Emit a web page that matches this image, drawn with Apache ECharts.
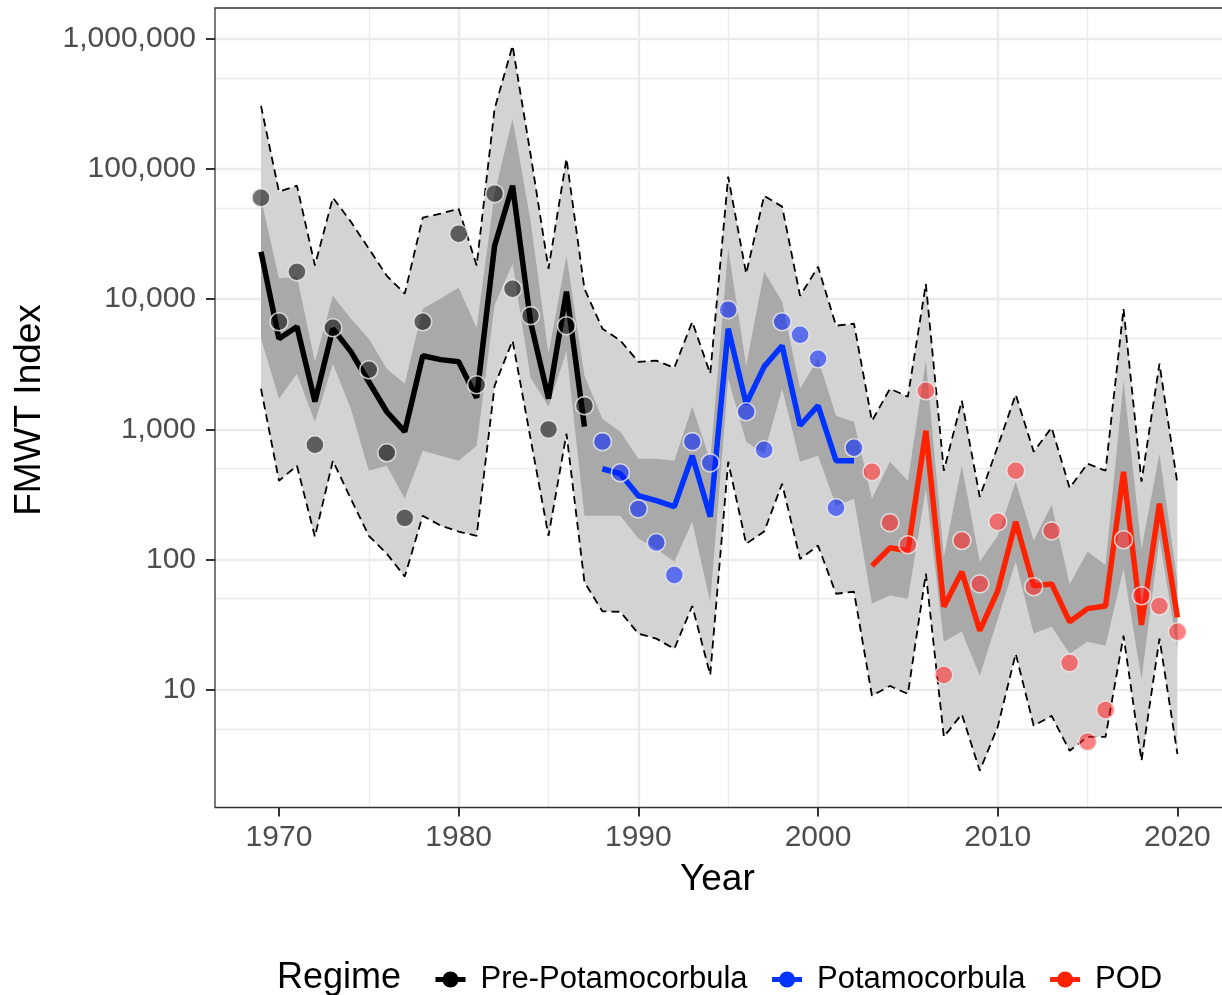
<!DOCTYPE html>
<html>
<head>
<meta charset="utf-8">
<script src="https://cdn.jsdelivr.net/npm/echarts@6/dist/echarts.min.js"></script>
<style>
  html, body { margin: 0; padding: 0; background: #fff; }
  #main { width: 1222px; height: 995px; }
</style>
</head>
<body>
<div id="main"></div>
<script>
// band years (whole record)
var years = [1969, 1970, 1971, 1972, 1973, 1974, 1975, 1976, 1977, 1978, 1979, 1980, 1981, 1982, 1983, 1984, 1985, 1986, 1987,
    1988, 1989, 1990, 1991, 1992, 1993, 1994, 1995, 1996, 1997, 1998, 1999, 2000, 2001, 2002,
    2003, 2004, 2005, 2006, 2007, 2008, 2009, 2010, 2011, 2012, 2013, 2014, 2015, 2016, 2017, 2018, 2019, 2020];
// outer interval (dashed)
var hi95 = [305000, 66800, 74300, 18100, 60100, 39300, 24400, 15100, 11000, 42200, 45300, 49500, 18100, 290000, 884000, 130000, 17100, 120000, 12000,
    5930, 4800, 3300, 3370, 2970, 6700, 2670, 87100, 15700, 62200, 51300, 10600, 17700, 6250, 6470,
    1160, 2050, 1780, 13100, 481, 1660, 303, 740, 1850, 673, 1030, 355, 545, 481, 8430, 396, 3190, 382];
var lo95 = [2050, 403, 525, 150, 574, 293, 152, 111, 74, 217, 182, 164, 152, 2160, 4800, 850, 152, 925, 67,
    40, 39.7, 27, 24.7, 20.6, 44, 13, 563, 132, 164, 382, 101, 128, 54.6, 56.6,
    9.0, 10.7, 9.3, 78, 4.35, 6.5, 2.39, 5.2, 18.9, 5.3, 6.3, 3.4, 4.35, 4.35, 26, 2.85, 24.7, 3.2];
// inner interval (dark band)
var hi50 = [59000, 14400, 14900, 3300, 10600, 7080, 4960, 2920, 2240, 8430, 10100, 12200, 6000, 65000, 243000, 40000, 3800, 21500, 2580,
    1200, 960, 594, 594, 574, 1490, 574, 24400, 3080, 16200, 9550, 2050, 3480, 1270, 1140,
    293, 563, 403, 3370, 105, 525, 96, 152, 396, 140, 264, 65, 115, 91, 2360, 121, 650, 67];
var lo50 = [5000, 1720, 2670, 1140, 3190, 1440, 481, 525, 293, 686, 627, 574, 748, 9000, 18700, 2500, 1500, 4000, 217,
    217, 217, 145, 121, 96, 195, 47, 2450, 804, 650, 2050, 563, 627, 259, 293,
    46, 53, 50, 350, 23.4, 28, 12.8, 35, 96, 27, 30.5, 18.9, 23.4, 21.8, 85, 12.1, 145, 20.6];

// fitted lines by regime
var preYears = [1969, 1970, 1971, 1972, 1973, 1974, 1975, 1976, 1977, 1978, 1979, 1980, 1981, 1982, 1983, 1984, 1985, 1986, 1987];
var preFit = [23100, 4960, 6140, 1630, 5930, 3950, 2320, 1365, 960, 3670, 3430, 3300, 1750, 25700, 74300, 6700, 1720, 11400, 1050];
var potYears = [1988, 1989, 1990, 1991, 1992, 1993, 1994, 1995, 1996, 1997, 1998, 1999, 2000, 2001, 2002];
var potFit = [498, 456, 309, 283, 255, 627, 213, 5930, 1570, 3030, 4390, 1070, 1520, 574, 574];
var podYears = [2003, 2004, 2005, 2006, 2007, 2008, 2009, 2010, 2011, 2012, 2013, 2014, 2015, 2016, 2017, 2018, 2019, 2020];
var podFit = [89.5, 123, 117, 975, 43.4, 80.5, 28.4, 57.5, 195, 63, 65, 33.3, 42, 44, 472, 31.5, 269, 36];

// observed index
var preObsYears = [1969, 1970, 1971, 1972, 1973, 1975, 1976, 1977, 1978, 1980, 1981, 1982, 1983, 1984, 1985, 1986, 1987];
var preObs = [60100, 6700, 16200, 762, 6030, 2870, 661, 209, 6700, 31800, 2200, 64600, 12000, 7470, 1000, 6250, 1520];
var potObs = [804, 464, 245, 135, 76, 804, 553, 8300, 1365, 697, 6700, 5330, 3480, 250, 722];
var podObs = [472, 192, 130, 1980, 13, 140, 65, 195, 481, 61.8, 166, 16.1, 4.0, 7.0, 142, 52.7, 44, 27.9];

var xTicks = [1970, 1980, 1990, 2000, 2010, 2020];
var xMinor = [1975, 1985, 1995, 2005, 2015];
var yMinor = [5, 50, 500, 5000, 50000, 500000];

var myChart = echarts.init(document.getElementById('main'));
var FONT = 'Liberation Sans';

function pairs(xs, ys) {
    return xs.map(function (x, i) { return [x, ys[i]]; });
}

function band(lo, hi, color, z) {
    return {
        type: 'custom',
        silent: true,
        z: z,
        data: pairs(years, hi),
        encode: {x: 0, y: 1},
        renderItem: function (params, api) {
            if (params.dataIndex !== 0) return null;
            var pts = [];
            for (var i = 0; i < years.length; i++) pts.push(api.coord([years[i], hi[i]]));
            for (var j = years.length - 1; j >= 0; j--) pts.push(api.coord([years[j], lo[j]]));
            return {type: 'polygon', shape: {points: pts}, style: {fill: color}};
        }
    };
}

function dashed(vals) {
    return {
        type: 'line', silent: true, z: 4,
        data: pairs(years, vals),
        showSymbol: false,
        lineStyle: {color: '#000', width: 1.8, type: [8, 5]}
    };
}

function fitLine(name, xs, ys, color) {
    return {
        name: name, type: 'line', z: 5, silent: true,
        data: pairs(xs, ys),
        symbol: 'circle', showSymbol: false,
        itemStyle: {color: color},
        lineStyle: {color: color, width: 5.5}
    };
}

function dots(name, xs, ys, color) {
    return {
        name: name, type: 'scatter', z: 6, silent: true,
        data: pairs(xs, ys),
        symbolSize: 18,
        itemStyle: {color: color, borderColor: '#ebebeb', borderWidth: 1.6}
    };
}

var minorLines = {
    type: 'line', silent: true, data: [],
    markLine: {
        z: 1, silent: true, symbol: 'none', label: {show: false},
        lineStyle: {color: '#ebebeb', width: 1.4, type: 'solid'},
        data: yMinor.map(function (v) { return {yAxis: v}; })
            .concat(xMinor.map(function (v) { return {xAxis: v}; }))
    }
};

var option = {
    animation: false,
    grid: {left: 215, right: 0, top: 8, bottom: 187.5, show: false},
    graphic: [
        {type: 'rect', z: 100, silent: true,
            shape: {x: 215, y: 8, width: 1010, height: 799.5},
            style: {fill: null, stroke: '#333', lineWidth: 1.3}},
        {type: 'text', left: 680, top: 861, style: {text: 'Year', font: '37px "Liberation Sans"', fill: '#000'}},
        {type: 'text', x: 30, y: 410, rotation: Math.PI / 2,
            style: {text: 'FMWT Index', font: '37px "Liberation Sans"', fill: '#000', align: 'center', verticalAlign: 'middle'}},
        {type: 'text', left: 277, top: 960, style: {text: 'Regime', font: '36px "Liberation Sans"', fill: '#000'}}
    ],
    legend: {
        left: 428, top: 959,
        itemWidth: 30, itemHeight: 20, itemGap: 22,
        lineStyle: {width: 5},
        data: ['Pre-Potamocorbula', 'Potamocorbula', 'POD'],
        textStyle: {fontFamily: FONT, fontSize: 31, color: '#000', padding: [0, 0, 0, 10]}
    },
    xAxis: {
        type: 'value', min: 1966.44, max: 2022.48,
        axisLine: {show: false},
        axisTick: {show: true, length: 9, lineStyle: {color: '#333', width: 2}, customValues: xTicks},
        axisLabel: {
            fontFamily: FONT, fontSize: 30, color: '#4d4d4d', margin: 15, customValues: xTicks,
            formatter: function (v) { return String(Math.round(v)); }
        },
        splitLine: {showMinLine: false, showMaxLine: false, lineStyle: {color: '#ebebeb', width: 2.4}}
    },
    yAxis: {
        type: 'log', logBase: 10, min: 1.247, max: 1720000,
        axisLine: {show: false},
        axisTick: {show: true, length: 9, lineStyle: {color: '#333', width: 2}},
        axisLabel: {
            fontFamily: FONT, fontSize: 30, color: '#4d4d4d', margin: 19,
            showMinLabel: false, showMaxLabel: false,
            formatter: function (v) { return Math.round(v).toLocaleString('en-US'); }
        },
        splitLine: {showMinLine: false, showMaxLine: false, lineStyle: {color: '#ebebeb', width: 2.4}}
    },
    series: [
        minorLines,
        band(lo95, hi95, '#d3d3d3', 2),
        band(lo50, hi50, '#a9a9a9', 3),
        dashed(hi95),
        dashed(lo95),
        fitLine('Pre-Potamocorbula', preYears, preFit, '#000000'),
        fitLine('Potamocorbula', potYears, potFit, '#0033ff'),
        fitLine('POD', podYears, podFit, '#ff2200'),
        dots('Pre-Potamocorbula', preObsYears, preObs, 'rgba(0,0,0,0.7)'),
        dots('Potamocorbula', potYears, potObs, 'rgba(0,30,255,0.7)'),
        dots('POD', podYears, podObs, 'rgba(255,30,30,0.7)')
    ]
};

myChart.setOption(option);
</script>
</body>
</html>
